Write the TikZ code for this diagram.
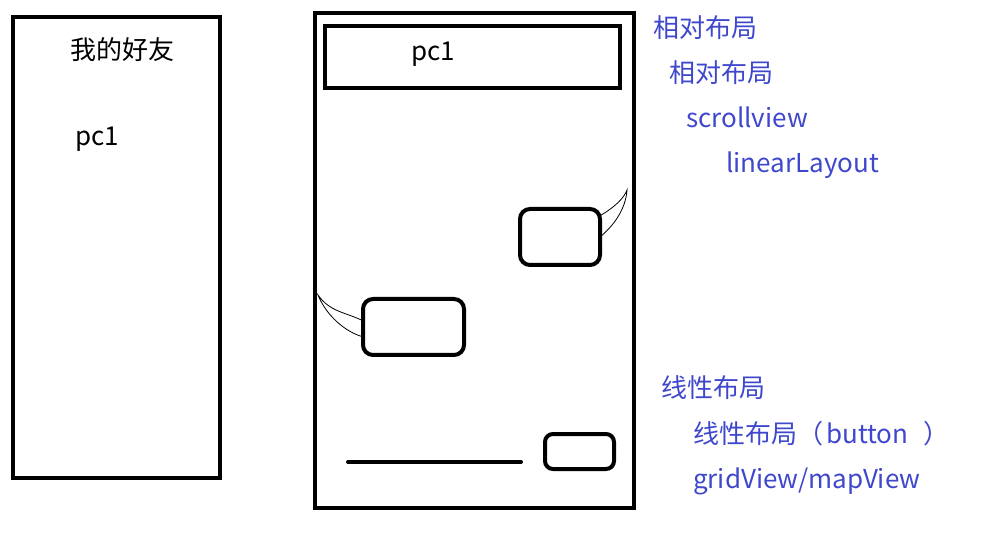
\documentclass[tikz,border=0pt]{standalone}
\usepackage{fontspec}
\newfontfamily\cjk{Noto Sans CJK SC}
\definecolor{paintblue}{RGB}{63,72,204}
\begin{document}
\begin{tikzpicture}[x=1pt,y=-1pt,
frame/.style={draw,line width=4pt},
bubble/.style={draw,line width=4pt,rounded corners=10pt,outer sep=0pt,inner sep=0pt},
tail/.style={line width=0.8pt},
txt/.style={font=\cjk\fontsize{26}{26}\selectfont,inner sep=0pt,anchor=base west},
note/.style={txt,text=paintblue}]

\useasboundingbox (0,0) rectangle (1002,553);

% friend list
\draw [frame] (13,17) rectangle (220,478);
\node [txt] (title) at (70,60) {我的好友};
\node [txt] (pcA) at (75,146) {pc1};

% chat window
\draw [frame] (315,13) rectangle (634,508);
\draw [frame] (325,26) rectangle (620,88);
\node [txt] (pcB) at (411,61) {pc1};

\node [bubble,minimum width=80pt,minimum height=56pt] (bubA) at (560,237) {};
\node [bubble,minimum width=101pt,minimum height=56pt] (bubB) at (413.5,327) {};
\coordinate (tipA) at (627,190);
\coordinate (tipB) at (318,295);
\draw [tail] (bubA.28) .. controls (615,207) and (624,198) .. (tipA)
  .. controls (626,205) and (618,222) .. (bubA.east);
\draw [tail] (bubB.173) .. controls (345,312) and (330,312) .. (tipB)
  .. controls (326,315) and (345,332) .. (bubB.191);

% input bar
\draw [line width=4pt,line cap=round] (348,462) coordinate (inL) -- (521,462) coordinate (inR);
\node [bubble,rounded corners=8pt,minimum width=69pt,minimum height=35pt] (send) at (579.5,451.5) {};

% layout notes
\node [note] (n1) at (653,38) {相对布局};
\node [note] (n2) at (669,83) {相对布局};
\node [note] (n3) at (686,128) {scrollview};
\node [note] (n4) at (726,173) {linearLayout};
\node [note] (n5) at (661,398) {线性布局};
\node [note] (n6) at (693,443) {线性布局（\hspace{3pt}button\hspace{15pt}）};
\node [note] (n7) at (693,488) {gridView/mapView};

\end{tikzpicture}
\end{document}
